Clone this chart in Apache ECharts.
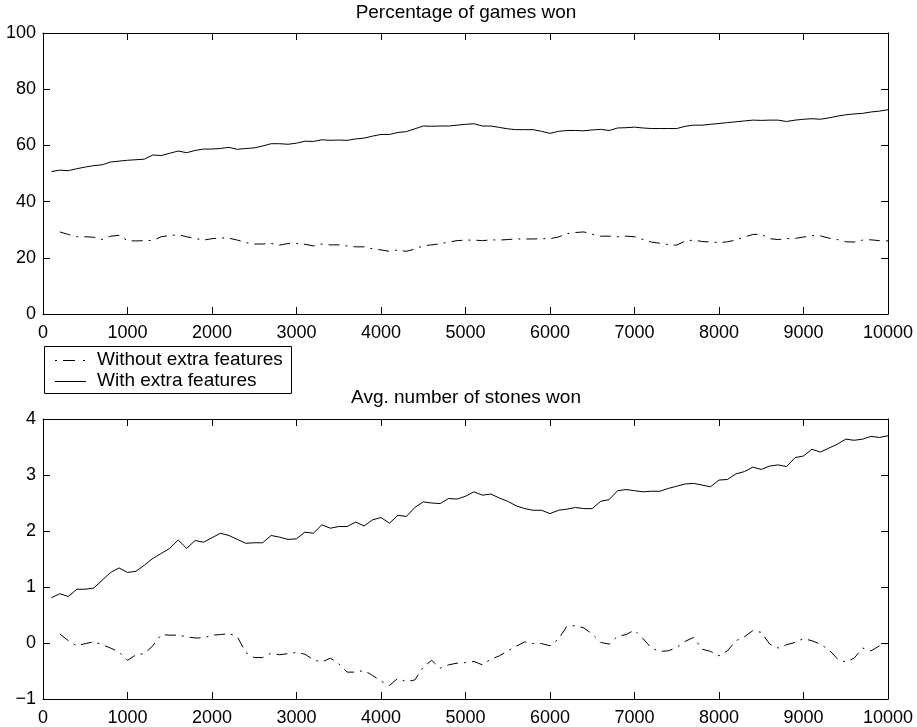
<!DOCTYPE html>
<html>
<head>
<meta charset="utf-8">
<script src="https://cdn.jsdelivr.net/npm/echarts@6/dist/echarts.min.js"></script>
<style>
  html, body { margin: 0; padding: 0; background: #fff; }
  #chart { width: 917px; height: 727px; }
</style>
</head>
<body>
<div id="chart"></div>
<script>
// Training games played (x axis), sampled every 100 games
const steps = Array.from({ length: 100 }, (_, i) => (i + 1) * 100);

// Percentage of games won, with extra features (x = 100 .. 10000)
const pctWith = [
  50.7, 51.2, 51.0, 51.7, 52.3, 52.8, 53.1, 54.1, 54.4, 54.7,
  54.9, 55.1, 56.6, 56.4, 57.2, 58.0, 57.4, 58.2, 58.7, 58.7,
  58.9, 59.3, 58.6, 58.9, 59.1, 59.8, 60.6, 60.6, 60.4, 60.8,
  61.5, 61.4, 62.0, 61.8, 61.9, 61.8, 62.3, 62.6, 63.3, 63.9,
  63.9, 64.6, 64.9, 65.9, 66.9, 66.8, 66.9, 66.9, 67.2, 67.5,
  67.7, 66.9, 66.9, 66.4, 65.9, 65.6, 65.6, 65.6, 65.0, 64.3,
  65.0, 65.3, 65.3, 65.2, 65.5, 65.7, 65.3, 66.2, 66.3, 66.5,
  66.2, 66.0, 66.0, 66.0, 66.0, 66.8, 67.2, 67.2, 67.5, 67.8,
  68.1, 68.4, 68.7, 69.0, 68.9, 69.0, 69.0, 68.5, 69.0, 69.3,
  69.5, 69.3, 69.8, 70.4, 70.9, 71.2, 71.4, 71.9, 72.2, 72.7
];

// Percentage of games won, without extra features (x = 200 .. 10000)
const pctWithout = [
  29.2, 28.3, 27.5, 27.5, 27.3, 26.5, 27.7, 28.0, 26.1,
  26.0, 26.1, 26.2, 27.5, 27.9, 28.2, 27.5, 26.9, 26.3, 26.8,
  27.1, 27.0, 26.3, 25.4, 24.9, 24.9, 25.1, 24.5, 25.1, 25.1,
  24.8, 24.2, 24.9, 24.6, 24.6, 24.2, 23.9, 23.9, 23.2, 22.8,
  22.3, 22.8, 22.3, 23.1, 24.3, 24.6, 25.0, 25.6, 26.1, 26.3,
  26.3, 26.1, 26.4, 26.3, 26.5, 26.7, 26.7, 26.7, 26.8, 26.8,
  27.4, 28.6, 29.0, 29.2, 28.4, 27.7, 27.7, 27.5, 27.7, 27.5,
  26.5, 25.6, 25.2, 24.7, 24.5, 26.0, 26.3, 25.8, 25.6, 25.4,
  25.7, 26.3, 27.4, 28.3, 28.4, 26.8, 26.5, 26.8, 26.9, 27.4,
  27.9, 27.8, 27.0, 26.5, 25.7, 25.6, 26.3, 26.4, 26.1, 26.0
];

// Average number of stones won, with extra features (x = 100 .. 10000)
const stonesWith = [
  0.81, 0.88, 0.83, 0.96, 0.96, 0.98, 1.12, 1.26, 1.34, 1.26,
  1.28, 1.39, 1.51, 1.60, 1.69, 1.84, 1.69, 1.83, 1.80, 1.88,
  1.96, 1.92, 1.85, 1.78, 1.79, 1.79, 1.92, 1.89, 1.85, 1.86,
  1.98, 1.96, 2.11, 2.05, 2.08, 2.08, 2.16, 2.09, 2.20, 2.24,
  2.14, 2.28, 2.26, 2.42, 2.52, 2.50, 2.49, 2.58, 2.57, 2.62,
  2.70, 2.64, 2.66, 2.59, 2.53, 2.45, 2.40, 2.37, 2.37, 2.31,
  2.37, 2.39, 2.42, 2.40, 2.40, 2.53, 2.56, 2.72, 2.74, 2.72,
  2.70, 2.71, 2.71, 2.76, 2.80, 2.84, 2.85, 2.82, 2.79, 2.91,
  2.92, 3.02, 3.06, 3.14, 3.10, 3.16, 3.18, 3.15, 3.31, 3.34,
  3.46, 3.41, 3.48, 3.55, 3.64, 3.62, 3.64, 3.69, 3.67, 3.70
];

// Average number of stones won, without extra features (x = 200 .. 10000)
const stonesWithout = [
  0.16, 0.04, -0.05, -0.01, 0.02, -0.03, -0.09, -0.16, -0.31,
  -0.21, -0.19, -0.05, 0.15, 0.14, 0.14, 0.11, 0.09, 0.09, 0.14,
  0.15, 0.17, 0.11, -0.17, -0.26, -0.26, -0.18, -0.21, -0.19, -0.17,
  -0.20, -0.30, -0.34, -0.27, -0.37, -0.52, -0.52, -0.49, -0.58, -0.68,
  -0.76, -0.63, -0.69, -0.66, -0.43, -0.31, -0.45, -0.39, -0.36, -0.35,
  -0.33, -0.39, -0.29, -0.23, -0.14, -0.06, 0.02, -0.01, -0.01, -0.05,
  0.07, 0.30, 0.31, 0.27, 0.16, 0.01, -0.02, 0.12, 0.15, 0.23,
  0.08, -0.09, -0.15, -0.14, -0.08, 0.03, 0.10, -0.11, -0.15, -0.23,
  -0.14, 0.04, 0.11, 0.22, 0.19, -0.02, -0.09, -0.03, 0.01, 0.08,
  0.04, -0.02, -0.12, -0.28, -0.34, -0.27, -0.09, -0.14, -0.05, 0.00
];

const titles = ['Percentage of games won', 'Avg. number of stones won'];
const seriesNames = ['Without extra features', 'With extra features'];

const FONT = '"Liberation Sans", Arial, Helvetica, sans-serif';
const INK = '#000';
const DASH_DOT = [11, 6, 2, 6];

const pair = (xs, ys) => ys.map((y, i) => [xs[i], y]);
const stepsLate = steps.slice(1);

const plainFmt = v => (v < 0 ? '\u2212' + Math.abs(v) : String(v));

const axisLineStyle = { show: true, onZero: false, lineStyle: { color: INK, width: 1 } };
const tickStyle = { show: true, inside: true, length: 7, lineStyle: { color: INK, width: 1 } };

function xAxes(gridIndex) {
  const common = {
    gridIndex, type: 'value', min: 0, max: 10000, interval: 1000,
    splitLine: { show: false }, axisLine: axisLineStyle, axisTick: tickStyle
  };
  return [
    Object.assign({}, common, {
      position: 'bottom',
      axisLabel: { show: true, color: INK, fontSize: 18, fontFamily: FONT, margin: 10, formatter: plainFmt }
    }),
    Object.assign({}, common, { position: 'top', axisLabel: { show: false } })
  ];
}

function yAxes(gridIndex, min, max, interval) {
  const common = {
    gridIndex, type: 'value', min, max, interval,
    splitLine: { show: false }, axisLine: axisLineStyle, axisTick: tickStyle
  };
  return [
    Object.assign({}, common, {
      position: 'left',
      axisLabel: { show: true, color: INK, fontSize: 18, fontFamily: FONT, margin: 7, formatter: plainFmt }
    }),
    Object.assign({}, common, { position: 'right', axisLabel: { show: false } })
  ];
}

function lineSeries(name, data, xAxisIndex, yAxisIndex, dashed) {
  return {
    name, type: 'line', data, xAxisIndex, yAxisIndex,
    symbol: 'none', showSymbol: false, silent: true, animation: false,
    lineStyle: { color: INK, width: 1, type: dashed ? DASH_DOT : 'solid' },
    itemStyle: { color: INK }
  };
}

// Boxed legend between the two panels
const LEG = { x: 44.5, y: 346.5, w: 247, h: 47, lineX0: 55, lineX1: 86, textX: 97, rowY: [360, 381] };
const legendGraphics = [
  {
    type: 'rect', z: 10,
    shape: { x: LEG.x, y: LEG.y, width: LEG.w, height: LEG.h },
    style: { fill: '#fff', stroke: INK, lineWidth: 1 }
  },
  {
    type: 'line', z: 11,
    shape: { x1: LEG.lineX0, y1: LEG.rowY[0] + 0.5, x2: LEG.lineX1, y2: LEG.rowY[0] + 0.5 },
    style: { stroke: INK, lineWidth: 1, lineDash: [2, 6, 12, 8] }
  },
  {
    type: 'line', z: 11,
    shape: { x1: LEG.lineX0, y1: LEG.rowY[1] + 0.5, x2: LEG.lineX1, y2: LEG.rowY[1] + 0.5 },
    style: { stroke: INK, lineWidth: 1 }
  },
  {
    type: 'text', z: 11, x: LEG.textX, y: LEG.rowY[0],
    style: { text: seriesNames[0], fill: INK, font: '19px ' + FONT, align: 'left', verticalAlign: 'middle' }
  },
  {
    type: 'text', z: 11, x: LEG.textX, y: LEG.rowY[1],
    style: { text: seriesNames[1], fill: INK, font: '19px ' + FONT, align: 'left', verticalAlign: 'middle' }
  }
];

const chart = echarts.init(document.getElementById('chart'), null, { renderer: 'canvas' });

chart.setOption({
  backgroundColor: '#fff',
  animation: false,
  textStyle: { fontFamily: FONT },
  grid: [
    { left: 43, top: 33, width: 845, height: 281, containLabel: false },
    { left: 43, top: 419, width: 845, height: 281, containLabel: false }
  ],
  xAxis: [...xAxes(0), ...xAxes(1)],
  yAxis: [...yAxes(0, 0, 100, 20), ...yAxes(1, -1, 4, 1)],
  graphic: [
    {
      type: 'text', x: 466, y: 13,
      style: { text: titles[0], fill: INK, font: '19px ' + FONT, align: 'center', verticalAlign: 'middle' }
    },
    {
      type: 'text', x: 466, y: 398,
      style: { text: titles[1], fill: INK, font: '19px ' + FONT, align: 'center', verticalAlign: 'middle' }
    },
    ...legendGraphics
  ],
  series: [
    lineSeries(seriesNames[0], pair(stepsLate, pctWithout), 0, 0, true),
    lineSeries(seriesNames[1], pair(steps, pctWith), 0, 0, false),
    lineSeries(seriesNames[0], pair(stepsLate, stonesWithout), 2, 2, true),
    lineSeries(seriesNames[1], pair(steps, stonesWith), 2, 2, false)
  ]
});
</script>
</body>
</html>
